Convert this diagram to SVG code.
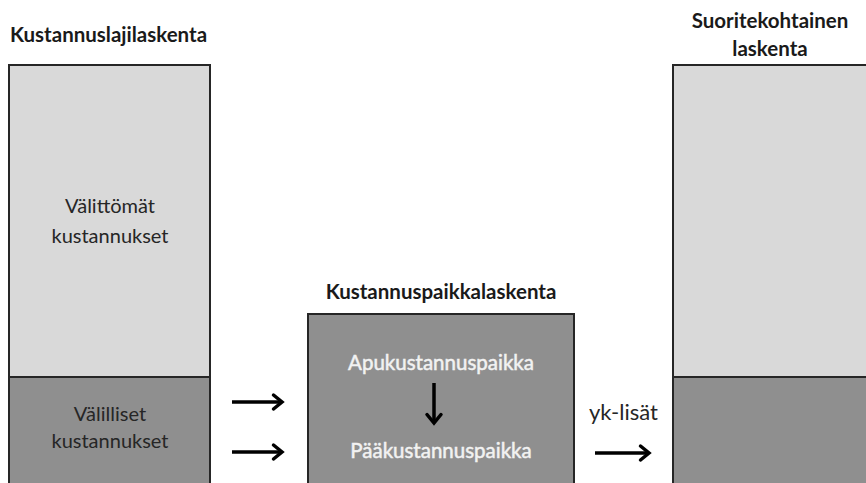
<svg xmlns="http://www.w3.org/2000/svg" width="866" height="483" viewBox="0 0 866 483">
<style>
.title{font-family:Lato,"Liberation Sans",sans-serif;font-weight:bold;font-size:20.5px;fill:#1a1a1a}
.lbl{font-family:Lato,"Liberation Sans",sans-serif;font-size:20px;fill:#262626}
.wlbl{font-family:Lato,"Liberation Sans",sans-serif;font-size:20.5px;fill:#f2f2f2;stroke:#f2f2f2;stroke-width:0.5}
.light{fill:#d9d9d9;stroke:#262626;stroke-width:2}
.dark{fill:#8f8f8f;stroke:#262626;stroke-width:2}
.arr{stroke:#000;stroke-width:3.5;fill:none}
.head{stroke:#000;stroke-width:3.5;fill:none;stroke-linejoin:miter;stroke-linecap:round}
</style>
<rect width="866" height="483" fill="#fff"/>
<g id="kustannuslajilaskenta">
<text class="title" x="10" y="42">Kustannuslajilaskenta</text>
<rect class="light" x="9" y="65" width="201" height="312"/>
<rect class="dark" x="9" y="377" width="201" height="120"/>
<text class="lbl" x="110" y="213" text-anchor="middle">Välittömät</text>
<text class="lbl" x="110" y="243" text-anchor="middle">kustannukset</text>
<text class="lbl" x="110" y="421" text-anchor="middle">Välilliset</text>
<text class="lbl" x="110" y="448" text-anchor="middle">kustannukset</text>
</g>
<g id="kustannuspaikkalaskenta">
<text class="title" x="441" y="299" text-anchor="middle">Kustannuspaikkalaskenta</text>
<rect class="dark" x="308" y="314" width="266" height="190"/>
<text class="wlbl" x="441" y="370" text-anchor="middle">Apukustannuspaikka</text>
<text class="wlbl" x="441" y="458" text-anchor="middle">Pääkustannuspaikka</text>
</g>
<g id="suoritekohtainen">
<text class="title" x="770" y="28" text-anchor="middle">Suoritekohtainen</text>
<text class="title" x="770" y="56" text-anchor="middle">laskenta</text>
<rect class="light" x="673" y="65" width="210" height="312"/>
<rect class="dark" x="673" y="377" width="210" height="120"/>
</g>
<g id="connectors">
<line class="arr" x1="232" y1="402" x2="281" y2="402"/>
<path class="head" d="M273.5,395 L282,402 L273.5,409"/>
<line class="arr" x1="232" y1="452" x2="281" y2="452"/>
<path class="head" d="M273.5,445 L282,452 L273.5,459"/>
<line class="arr" x1="434" y1="383" x2="434" y2="422"/>
<path class="head" d="M427,414.5 L434,423 L441,414.5"/>
<line class="arr" x1="595" y1="453" x2="648" y2="453"/>
<path class="head" d="M640.5,446 L649,453 L640.5,460"/>
<text class="lbl" x="589" y="420" style="font-size:22px">yk-lisät</text>
</g>
</svg>
